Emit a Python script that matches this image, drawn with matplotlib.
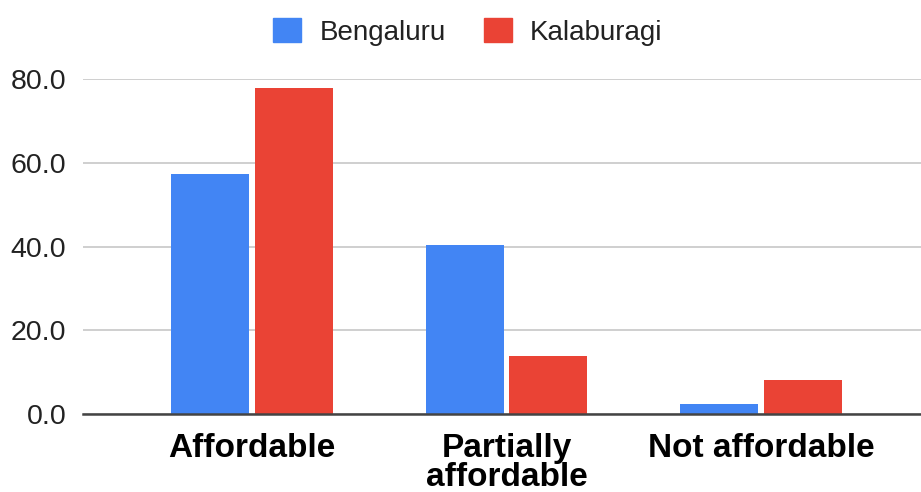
import matplotlib.pyplot as plt
import numpy as np
from matplotlib.patches import Patch

plt.rcParams['font.family'] = ['Liberation Sans', 'DejaVu Sans']

categories = ["Affordable", "Partially\naffordable", "Not affordable"]
bengaluru  = [57.4, 40.4, 2.3]
kalaburagi = [78.0, 13.8, 8.2]
yticks     = [0, 20, 40, 60, 80]

blue = "#4285F4"
red  = "#EA4335"

fig = plt.figure(figsize=(9.21, 4.92), dpi=100)
ax = fig.add_axes([83/921, 1 - 414/492, 1 - 83/921, (414 - 79.3)/492])

x = np.arange(len(categories))
w = 0.307
off = 0.164
ax.bar(x - off, bengaluru, w, color=blue, zorder=3)
ax.bar(x + off, kalaburagi, w, color=red, zorder=3)

ax.set_xlim(-0.664, 2.629)
ax.set_ylim(0, 80)
ax.set_yticks(yticks)
ax.set_yticklabels([f"{v:.1f}" for v in yticks], fontsize=20.5, color="#222222")
ax.set_xticks(x)
ax.set_xticklabels(categories, fontsize=24, fontweight="bold", linespacing=0.9)

ax.tick_params(axis="y", length=0, pad=12)
ax.tick_params(axis="x", length=0, pad=14)
ax.grid(axis="y", color="#cccccc", linewidth=1.3, zorder=0)
for s in ["top", "right", "left"]:
    ax.spines[s].set_visible(False)
ax.spines["bottom"].set_color("#444444")
ax.spines["bottom"].set_linewidth(1.8)
ax.spines["bottom"].set_zorder(4)

handles = [Patch(color=blue, label="Bengaluru"), Patch(color=red, label="Kalaburagi")]
fig.legend(handles=handles, loc="upper center", bbox_to_anchor=(0.508, 1.015), ncol=2,
           frameon=False, fontsize=20, handlelength=1.0, handleheight=1.0,
           handletextpad=0.67, columnspacing=1.37, labelcolor="#222222")

fig.savefig("out.png", dpi=100)
